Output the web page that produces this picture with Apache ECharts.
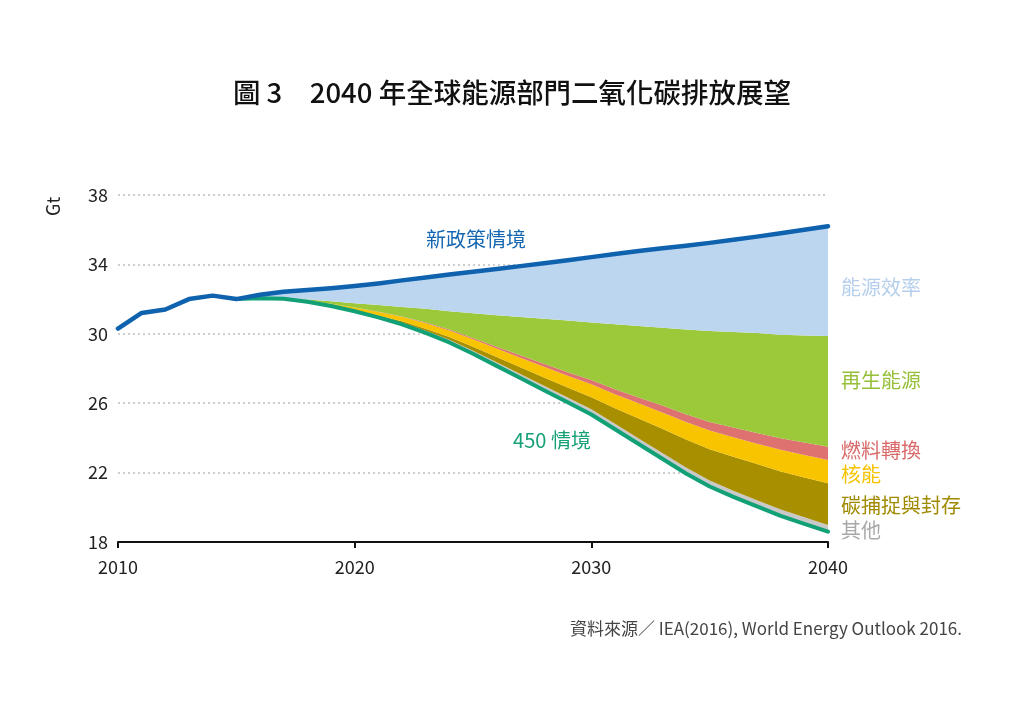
<!DOCTYPE html>
<html>
<head>
<meta charset="utf-8">
<script src="https://cdn.jsdelivr.net/npm/echarts@6/dist/echarts.min.js"></script>
<style>
html,body{margin:0;padding:0;background:#fff;}
#c{width:1024px;height:724px;}
</style>
</head>
<body>
<div id="c"></div>
<script>
// ---- data (Gt CO2) ----
const histYears = [2010, 2011, 2012, 2013, 2014, 2015];
const histValues = [30.3, 31.2, 31.4, 32.0, 32.2, 32.0];

const projYears = [2015, 2016, 2017, 2018, 2019, 2020, 2021, 2022, 2023, 2024, 2025, 2026, 2027,
  2028, 2029, 2030, 2031, 2032, 2033, 2034, 2035, 2036, 2037, 2038, 2039, 2040];

// New Policies Scenario
const newPolicies = [32.0, 32.25, 32.42, 32.52, 32.63, 32.75, 32.9, 33.08, 33.25, 33.42, 33.58, 33.74, 33.9,
  34.07, 34.24, 34.42, 34.6, 34.77, 34.93, 35.08, 35.24, 35.42, 35.6, 35.8, 36.0, 36.2];
// 450 Scenario
const scenario450 = [32.0, 32.05, 32.02, 31.85, 31.6, 31.3, 30.95, 30.55, 30.05, 29.5, 28.85, 28.15, 27.45,
  26.75, 26.05, 25.35, 24.5, 23.65, 22.8, 21.95, 21.2, 20.6, 20.05, 19.5, 19.05, 18.6];

// wedges (stacked above the 450 Scenario)
const other = [0, 0, 0, 0.01, 0.02, 0.04, 0.06, 0.09, 0.12, 0.15, 0.18, 0.21, 0.24,
  0.26, 0.28, 0.3, 0.31, 0.32, 0.33, 0.34, 0.35, 0.36, 0.36, 0.37, 0.37, 0.38];
const ccs = [0, 0, 0, 0.01, 0.01, 0.02, 0.05, 0.08, 0.12, 0.17, 0.23, 0.3, 0.38,
  0.47, 0.57, 0.7, 0.9, 1.15, 1.4, 1.62, 1.8, 1.95, 2.08, 2.2, 2.3, 2.4];
const nuclear = [0, 0, 0.02, 0.05, 0.1, 0.15, 0.2, 0.26, 0.32, 0.37, 0.42, 0.49, 0.55,
  0.62, 0.68, 0.74, 0.8, 0.87, 0.94, 1.0, 1.07, 1.13, 1.18, 1.24, 1.29, 1.34];
const fuelSwitch = [0, 0, 0, 0, 0, 0.01, 0.01, 0.02, 0.04, 0.06, 0.08, 0.11, 0.14,
  0.17, 0.2, 0.24, 0.29, 0.34, 0.4, 0.45, 0.5, 0.56, 0.61, 0.67, 0.72, 0.77];
const renewables = [0, 0, 0.01, 0.06, 0.14, 0.24, 0.39, 0.55, 0.79, 1.05, 1.42, 1.81, 2.21,
  2.6, 2.98, 3.32, 3.75, 4.12, 4.48, 4.89, 5.24, 5.5, 5.77, 5.97, 6.17, 6.38];
const efficiency = [0, 0.2, 0.37, 0.54, 0.76, 0.99, 1.24, 1.53, 1.81, 2.12, 2.4, 2.67, 2.93,
  3.2, 3.48, 3.77, 4.05, 4.32, 4.58, 4.83, 5.08, 5.32, 5.55, 5.85, 6.1, 6.33];

const yTicks = [18, 22, 26, 30, 34, 38];
const xTicks = [2010, 2020, 2030, 2040];

const wedgeNames = ['其他', '碳捕捉與封存', '核能', '燃料轉換', '再生能源', '能源效率'];
const wedgeData = [other, ccs, nuclear, fuelSwitch, renewables, efficiency];
const wedgeColors = ['#c9c9c9', '#a88f00', '#f8c400', '#dd7271', '#9cc93a', '#bcd6f0'];
const labelColors = ['#a8a8a8', '#a08a00', '#f5c300', '#d96a6a', '#96c03a', '#b5cfec'];
const labelY = [530, 505, 474, 450, 380, 287];

// category axis: every year 2010..2040
const allYears = histYears.concat(projYears.slice(1)).map(String);
const onProj = arr => allYears.map(y => {
  const i = projYears.indexOf(+y);
  return i < 0 ? '-' : arr[i];
});
const npsFull = allYears.map(y => {
  const h = histYears.indexOf(+y);
  if (h >= 0) return histValues[h];
  return newPolicies[projYears.indexOf(+y)];
});

const FONT = '"Noto Sans CJK TC", "Noto Sans", sans-serif';
const series = [];
series.push({
  name: 'base', type: 'line', stack: 'w', data: onProj(scenario450),
  symbol: 'none', lineStyle: { opacity: 0, width: 0 }, silent: true, z: 2
});
wedgeData.forEach((d, i) => {
  series.push({
    name: wedgeNames[i], type: 'line', stack: 'w', data: onProj(d),
    symbol: 'none', lineStyle: { width: 0, opacity: 0 },
    areaStyle: { color: wedgeColors[i], opacity: 1 }, z: 2
  });
});
series.push({
  name: '450 情境', type: 'line', data: onProj(scenario450),
  symbol: 'none', lineStyle: { color: '#12a176', width: 4, cap: 'round', join: 'round' }, z: 4
});
series.push({
  name: '新政策情境', type: 'line', data: npsFull,
  symbol: 'none', lineStyle: { color: '#0e62ae', width: 4.5, cap: 'round', join: 'round' }, z: 5
});

const graphics = [
  { type: 'text', left: 'center', top: 79, style: { text: '圖 3　2040 年全球能源部門二氧化碳排放展望', font: '500 27.5px ' + FONT, fill: '#111' } },
  { type: 'text', x: 44, y: 216, rotation: Math.PI / 2, style: { text: 'Gt', font: '18px ' + FONT, fill: '#222' } },
  { type: 'text', x: 476, y: 239, style: { text: '新政策情境', font: '20px ' + FONT, fill: '#1667b1', align: 'center', verticalAlign: 'middle' } },
  { type: 'text', x: 552, y: 440, style: { text: '450 情境', font: '20px ' + FONT, fill: '#16a077', align: 'center', verticalAlign: 'middle' } },
  { type: 'text', x: 962, y: 629, style: { text: '資料來源／ IEA(2016), World Energy Outlook 2016.', font: '17px ' + FONT, fill: '#444', align: 'right', verticalAlign: 'middle' } }
];
wedgeNames.forEach((n, i) => {
  graphics.push({ type: 'text', x: 841, y: labelY[i], style: { text: n, font: '20px ' + FONT, fill: labelColors[i], verticalAlign: 'middle' } });
});

const showTick = (idx, val) => xTicks.indexOf(+val) >= 0;

const chart = echarts.init(document.getElementById('c'), null, { renderer: 'canvas' });
chart.setOption({
  backgroundColor: '#fff',
  animation: false,
  textStyle: { fontFamily: FONT },
  grid: { left: 118, right: 196, top: 195, bottom: 182, containLabel: false },
  xAxis: {
    type: 'category', data: allYears, boundaryGap: false,
    axisLine: { show: true, lineStyle: { color: '#111', width: 2 } },
    axisTick: { show: true, length: 6, interval: showTick, alignWithLabel: true, lineStyle: { color: '#111', width: 2 } },
    axisLabel: { color: '#222', fontSize: 18, margin: 16, interval: showTick },
    splitLine: { show: false }
  },
  yAxis: {
    type: 'value', min: yTicks[0], max: yTicks[yTicks.length - 1], interval: 4,
    axisLine: { show: false }, axisTick: { show: false },
    axisLabel: { color: '#222', fontSize: 18, margin: 10 },
    splitLine: { show: true, lineStyle: { color: '#bdbdbd', width: 1.5, type: [2, 3] } }
  },
  series: series,
  graphic: graphics
});
</script>
</body>
</html>
